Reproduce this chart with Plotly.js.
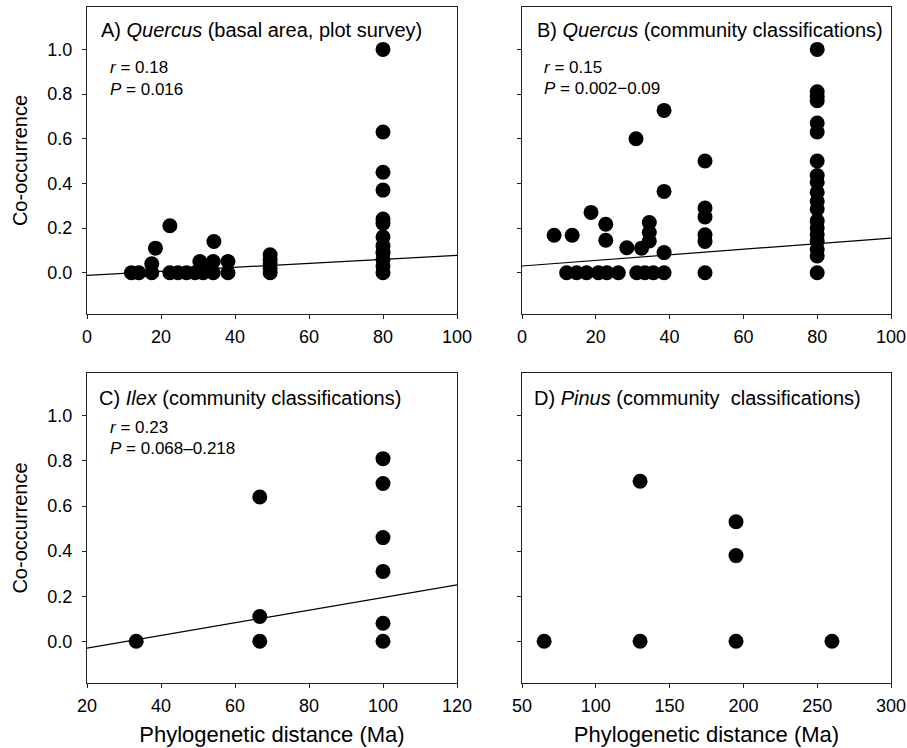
<!DOCTYPE html>
<html>
<head>
<meta charset="utf-8">
<script src="https://cdn.plot.ly/plotly-3.0.1.min.js"></script>
<style>html,body{margin:0;padding:0;background:#fff;}#chart{width:907px;height:748px;}</style>
</head>
<body>
<div id="chart"></div>
<script>
// Panel A: Quercus (basal area, plot survey)
const xA = [12, 14, 17.5, 17.5, 18.5, 22.4, 22.4, 24.6, 26.9, 29.2, 30.5, 31.4, 32, 34.1, 34.1, 34.3, 38.1, 38.1,
  49.5, 49.5, 49.5, 49.5, 49.5,
  80, 80, 80, 80, 80, 80, 80, 80, 80, 80, 80, 80];
const yA = [0, 0, 0, 0.04, 0.11, 0, 0.21, 0, 0, 0, 0.05, 0, 0.03, 0, 0.05, 0.14, 0, 0.05,
  0, 0.02, 0.04, 0.06, 0.08,
  1.0, 0.63, 0.45, 0.37, 0.24, 0.22, 0.16, 0.12, 0.09, 0.06, 0.03, 0.0];
const fitAx = [0, 100];
const fitAy = [-0.012, 0.078];

// Panel B: Quercus (community classifications)
const xB = [12.1, 14.8, 17.5, 20.7, 23, 26.1, 31.1, 33.3, 35.6, 38.5, 49.6,
  8.7, 13.6, 18.7, 22.7, 22.7, 28.4, 30.9, 32.4, 34.5, 34.5, 34.5, 38.5, 38.5, 38.5,
  49.6, 49.6, 49.6, 49.6, 49.6,
  80, 80, 80, 80, 80, 80, 80, 80, 80, 80, 80, 80, 80, 80, 80, 80, 80, 80, 80];
const yB = [0, 0, 0, 0, 0, 0, 0, 0, 0, 0, 0,
  0.168, 0.168, 0.27, 0.217, 0.145, 0.112, 0.60, 0.11, 0.225, 0.18, 0.142, 0.727, 0.364, 0.09,
  0.5, 0.29, 0.25, 0.17, 0.14,
  1.0, 0.81, 0.79, 0.77, 0.67, 0.63, 0.5, 0.435, 0.405, 0.36, 0.32, 0.285, 0.232, 0.2, 0.17, 0.14, 0.105, 0.075, 0];
const fitBx = [0, 100];
const fitBy = [0.03, 0.155];

// Panel C: Ilex (community classifications)
const xC = [33.3, 66.7, 66.7, 66.7, 100, 100, 100, 100, 100, 100];
const yC = [0, 0.64, 0.11, 0, 0.81, 0.70, 0.46, 0.31, 0.08, 0];
const fitCx = [20, 120];
const fitCy = [-0.03, 0.25];

// Panel D: Pinus (community classifications)
const xD = [65, 130, 130, 195, 195, 195, 260];
const yD = [0, 0.71, 0, 0.53, 0.38, 0, 0];

const panelTitles = [
  'A) <i>Quercus</i> (basal area, plot survey)',
  'B) <i>Quercus</i> (community classifications)',
  'C) <i>Ilex</i> (community classifications)',
  'D) <i>Pinus</i> (community  classifications)'
];
const statsR = ['<i>r</i> = 0.18', '<i>r</i> = 0.15', '<i>r</i> = 0.23'];
const statsP = ['<i>P</i> = 0.016', '<i>P</i> = 0.002\u22120.09', '<i>P</i> = 0.068\u20130.218'];
const xTitle = 'Phylogenetic distance (Ma)';
const yTitle = 'Co-occurrence';

const W = 907, H = 748;
const px = v => v / W;
const py = v => 1 - v / H;

const mk = {color: '#000', size: 15};
const ln = {color: '#000', width: 1.2};
function pts(x, y, xa, ya) { return {x, y, xaxis: xa, yaxis: ya, type: 'scatter', mode: 'markers', marker: mk, hoverinfo: 'skip'}; }
function fit(x, y, xa, ya) { return {x, y, xaxis: xa, yaxis: ya, type: 'scatter', mode: 'lines', line: ln, hoverinfo: 'skip'}; }

const data = [
  fit(fitAx, fitAy, 'x', 'y'), pts(xA, yA, 'x', 'y'),
  fit(fitBx, fitBy, 'x2', 'y2'), pts(xB, yB, 'x2', 'y2'),
  fit(fitCx, fitCy, 'x3', 'y3'), pts(xC, yC, 'x3', 'y3'),
  pts(xD, yD, 'x4', 'y4')
];

const FONT = 'Liberation Sans, Arial, Helvetica, sans-serif';
const axBase = {
  showgrid: false, zeroline: false, showline: true, mirror: true,
  linecolor: '#222', linewidth: 1, ticks: 'outside', ticklen: 4, tickwidth: 1, tickcolor: '#222',
  tickfont: {family: FONT, size: 18, color: '#000'}, fixedrange: true
};
const yRange = [-0.185, 1.19];
const colX = [[px(87), px(457)], [px(522), px(891)]];
const rowY = [[py(314), py(7)], [py(683), py(373)]];

function xa(dom, range, dtick, anchor, title) {
  const o = Object.assign({}, axBase, {domain: dom, range, tick0: 0, dtick, anchor, ticklabelstandoff: 2});
  if (title) o.title = {text: title, font: {family: FONT, size: 22, color: '#000'}, standoff: 12};
  return o;
}
function ya(dom, anchor, labels, title) {
  const o = Object.assign({}, axBase, {domain: dom, range: yRange, tick0: 0, dtick: 0.2, tickformat: '.1f', anchor, showticklabels: labels, ticklabelstandoff: 6});
  if (title) o.title = {text: title, font: {family: FONT, size: 20, color: '#000'}, standoff: 14};
  return o;
}

const annotations = [];
const titlePos = [[99, 30], [535, 30], [97, 398], [532, 398]];
panelTitles.forEach((t, i) => annotations.push({
  text: t, xref: 'paper', yref: 'paper', x: px(titlePos[i][0]), y: py(titlePos[i][1]),
  xanchor: 'left', yanchor: 'middle', showarrow: false, font: {family: FONT, size: 20, color: '#000'}
}));
const statPos = [[108, 67, 89], [542, 67, 88], [108, 428, 449]];
statsR.forEach((t, i) => {
  annotations.push({text: t, xref: 'paper', yref: 'paper', x: px(statPos[i][0]), y: py(statPos[i][1]),
    xanchor: 'left', yanchor: 'middle', showarrow: false, font: {family: FONT, size: 17, color: '#000'}});
  annotations.push({text: statsP[i], xref: 'paper', yref: 'paper', x: px(statPos[i][0]), y: py(statPos[i][2]),
    xanchor: 'left', yanchor: 'middle', showarrow: false, font: {family: FONT, size: 17, color: '#000'}});
});

const layout = {
  width: W, height: H, margin: {l: 0, r: 0, t: 0, b: 0},
  paper_bgcolor: '#fff', plot_bgcolor: '#fff', showlegend: false,
  font: {family: FONT, color: '#000'},
  xaxis: xa(colX[0], [0, 100], 20, 'y'),
  yaxis: ya(rowY[0], 'x', true, yTitle),
  xaxis2: xa(colX[1], [0, 100], 20, 'y2'),
  yaxis2: ya(rowY[0], 'x2', false),
  xaxis3: xa(colX[0], [20, 120], 20, 'y3', xTitle),
  yaxis3: ya(rowY[1], 'x3', true, yTitle),
  xaxis4: xa(colX[1], [50, 300], 50, 'y4', xTitle),
  yaxis4: ya(rowY[1], 'x4', false),
  annotations
};
Plotly.newPlot('chart', data, layout, {displayModeBar: false, staticPlot: true});
</script>
</body>
</html>
